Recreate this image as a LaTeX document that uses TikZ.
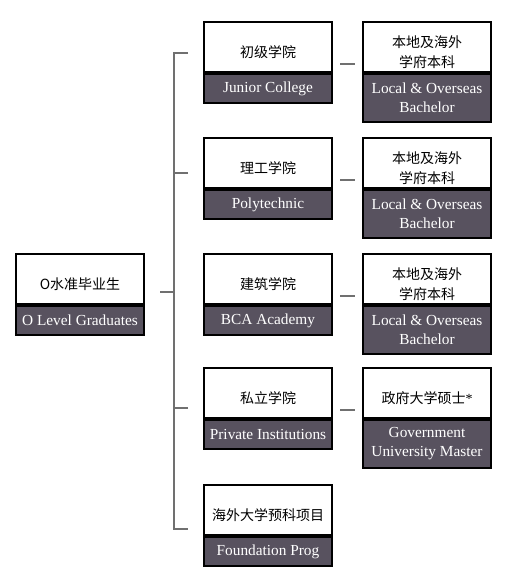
\documentclass[tikz,border=0pt]{standalone}
\usepackage{fontspec}
\usetikzlibrary{calc}
\setmainfont{Liberation Serif}
\newfontfamily\cjk{Noto Sans CJK SC}
\definecolor{banddark}{RGB}{88,82,95}
\definecolor{linkgray}{RGB}{112,112,112}

\tikzset{every picture/.style={line width=0.75pt}}
\tikzset{
  cnpart/.style={draw=black, line width=1.5pt, fill=white, anchor=north west, inner sep=0pt,
    minimum width=96pt, minimum height=37.5pt, align=center, text height=15.5pt, text depth=0pt,
    font=\cjk\fontsize{10.5}{15}\selectfont},
  cnpart2/.style={cnpart, text height=31pt},
  enpart/.style={draw=black, line width=1.5pt, fill=banddark, text=white, anchor=north west, inner sep=0pt,
    minimum width=96pt, minimum height=21.75pt, align=center,
    font=\fontsize{11.5}{14.25}\selectfont},
  enpart2/.style={enpart, minimum height=36pt},
  link/.style={draw=linkgray, line width=1.5pt}
}

\begin{document}
\begin{tikzpicture}[x=0.75pt,y=0.75pt,yscale=-1,xscale=1]
\useasboundingbox (0,0) rectangle (512,583);

% O Level Graduates
\node [cnpart] (olvl) at (15,253) {O水准毕业生};
\node [enpart] (olvlEN) at (olvl.south west) {O Level Graduates};

% Junior College
\node [cnpart] (jc) at (203,21) {初级学院};
\node [enpart] (jcEN) at (jc.south west) {Junior College};
\node [cnpart2] (jcNext) at (362,21) {本地及海外\\学府本科};
\node [enpart2] (jcNextEN) at (jcNext.south west) {Local \& Overseas\\Bachelor};

% Polytechnic
\node [cnpart] (poly) at (203,137) {理工学院};
\node [enpart] (polyEN) at (poly.south west) {Polytechnic};
\node [cnpart2] (polyNext) at (362,137) {本地及海外\\学府本科};
\node [enpart2] (polyNextEN) at (polyNext.south west) {Local \& Overseas\\Bachelor};

% BCA Academy
\node [cnpart] (bca) at (203,253) {建筑学院};
\node [enpart] (bcaEN) at (bca.south west) {BCA Academy};
\node [cnpart2] (bcaNext) at (362,253) {本地及海外\\学府本科};
\node [enpart2] (bcaNextEN) at (bcaNext.south west) {Local \& Overseas\\Bachelor};

% Private Institutions
\node [cnpart] (pte) at (203,367) {私立学院};
\node [enpart] (pteEN) at (pte.south west) {Private Institutions};
\node [cnpart] (pteNext) at (362,367) {政府大学硕士{\normalfont *}};
\node [enpart2] (pteNextEN) at (pteNext.south west) {Government\\University Master};

% Foundation Prog
\node [cnpart] (fdn) at (203,484) {海外大学预科项目};
\node [enpart] (fdnEN) at (fdn.south west) {Foundation Prog};

% trunk and ticks
\coordinate (trunkTop) at (174,53);
\coordinate (trunkBot) at (174,529);
\coordinate (jcTick) at (188,53);
\coordinate (polyTick) at (188,173);
\coordinate (olvlTick) at (160,292);
\coordinate (pteTick) at (188,408);
\coordinate (fdnTick) at (188,529);
\draw [link] (jcTick) -- (trunkTop) -- (trunkBot) -- (fdnTick);
\draw [link] (polyTick) -- (polyTick -| trunkTop);
\draw [link] (pteTick) -- (pteTick -| trunkTop);
\draw [link] (olvlTick) -- (olvlTick -| trunkTop);

% dashes to next step
\draw [link] ($(jc.south east)+(7,-9)$) -- ($(jcNext.south west)+(-7,-9)$);
\draw [link] ($(poly.south east)+(7,-9)$) -- ($(polyNext.south west)+(-7,-9)$);
\draw [link] ($(bca.south east)+(7,-9)$) -- ($(bcaNext.south west)+(-7,-9)$);
\draw [link] ($(pte.south east)+(7,-9)$) -- ($(pteNext.south west)+(-7,-9)$);

\end{tikzpicture}
\end{document}
